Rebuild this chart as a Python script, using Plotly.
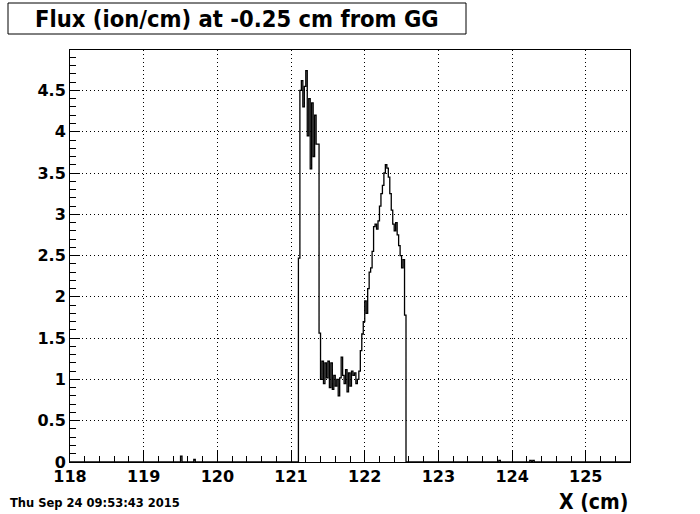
import numpy as np
import plotly.graph_objects as go

# ---------------- data ----------------
title_text = "Flux (ion/cm) at -0.25 cm from GG"
x_label = "X (cm)"
date_text = "Thu Sep 24 09:53:43 2015"

x_min, x_max = 118.0, 125.6
bin_width = 0.02
main_start = 121.10
# bin contents starting at main_start (each bin = bin_width wide)
main_values = [
    2.47, 4.50, 4.62, 4.30, 4.55, 4.74, 3.95, 4.40, 3.55, 4.35, 3.70, 4.20, 3.85, 3.85, 1.56,
    1.00, 1.22, 0.95, 1.20, 1.02, 1.22, 0.90, 1.20, 0.88, 1.05, 0.92, 1.00, 0.80, 1.02, 1.27,
    1.05, 0.95, 1.12, 0.85, 1.08, 0.92, 1.10, 1.05, 1.08, 0.95, 1.00, 1.10,
    1.35, 1.55, 1.70, 1.95, 1.80, 2.10, 2.30, 2.35, 2.55, 2.85, 2.88, 2.82, 2.92, 3.10, 3.25,
    3.35, 3.50, 3.60, 3.56, 3.45, 3.25, 3.05, 2.88, 2.80, 2.90, 2.75, 2.62, 2.50, 2.35, 2.45,
    1.78,
]
# isolated small bins near zero
blip_x = [119.50, 119.68, 123.82, 124.24, 124.28]
blip_values = [0.07, 0.03, 0.02, 0.02, 0.02]

y_max = 4.99
x_ticks = [118, 119, 120, 121, 122, 123, 124, 125]
y_ticks = [0, 0.5, 1, 1.5, 2, 2.5, 3, 3.5, 4, 4.5]

# ---------------- histogram build ----------------
n_bins = int(round((x_max - x_min) / bin_width))
edges = x_min + bin_width * np.arange(n_bins + 1)
counts = np.zeros(n_bins)
i0 = int(round((main_start - x_min) / bin_width))
counts[i0:i0 + len(main_values)] = main_values
for bx, bv in zip(blip_x, blip_values):
    counts[int(round((bx - x_min) / bin_width))] = bv

xs = np.concatenate([edges[:-1], [edges[-1]]])
ys = np.concatenate([counts, [counts[-1]]])

fig = go.Figure()
fig.add_trace(go.Scatter(
    x=xs, y=ys, mode="lines", line=dict(color="black", width=1.3, shape="hv"),
    hoverinfo="skip", showlegend=False,
))

tick_font = dict(family="DejaVu Sans", size=16, color="black", weight="bold")

fig.update_layout(
    width=700, height=514,
    margin=dict(l=70, r=70, t=50, b=52),
    paper_bgcolor="white", plot_bgcolor="white",
    showlegend=False,
    xaxis=dict(
        range=[x_min, x_max], tickvals=x_ticks, ticktext=[str(v) for v in x_ticks],
        ticks="inside", ticklen=12, tickcolor="black", tickwidth=1,
        showgrid=True, gridcolor="black", griddash="1px,3px", gridwidth=1,
        minor=dict(dtick=0.2, tick0=118, ticks="inside", ticklen=6, tickcolor="black", showgrid=False),
        showline=True, linecolor="black", linewidth=1, mirror=True,
        zeroline=False, tickfont=tick_font,
    ),
    yaxis=dict(
        range=[0, y_max], tickvals=y_ticks, ticktext=[f"{v:g}" for v in y_ticks],
        ticks="inside", ticklen=10, tickcolor="black", tickwidth=1,
        showgrid=True, gridcolor="black", griddash="1px,3px", gridwidth=1,
        minor=dict(dtick=0.1, tick0=0, ticks="inside", ticklen=6, tickcolor="black", showgrid=False),
        showline=True, linecolor="black", linewidth=1, mirror=True,
        zeroline=False, tickfont=tick_font,
    ),
)

# pixel -> paper helpers (plot area: x 70..630, y 50..462)
def px(xp):
    return (xp - 70) / 560.0

def py(yp):
    return (462 - yp) / 412.0

fig.add_shape(type="rect", xref="paper", yref="paper",
              x0=px(8), x1=px(466), y0=py(34), y1=py(3),
              line=dict(color="black", width=1), fillcolor="white", layer="above")

fig.add_annotation(text=title_text, xref="paper", yref="paper",
                   x=px(237), y=py(19), xanchor="center", yanchor="middle", showarrow=False,
                   font=dict(family="DejaVu Sans Condensed, Liberation Sans Narrow, DejaVu Sans",
                             size=23.5, color="black", weight="bold"))

fig.add_annotation(text=x_label, xref="paper", yref="paper",
                   x=px(630), y=py(502), xanchor="right", yanchor="middle", showarrow=False,
                   font=dict(family="DejaVu Sans Condensed, Liberation Sans Narrow, DejaVu Sans",
                             size=21, color="black", weight="bold"))

fig.add_annotation(text=date_text, xref="paper", yref="paper",
                   x=px(8), y=py(503), xanchor="left", yanchor="middle", showarrow=False,
                   font=dict(family="DejaVu Sans", size=11.5, color="black", weight="bold"))

# remove the page's default body margin so the figure fills the 700x514 window
fig.write_html("out.html", config={"displayModeBar": False},
               post_script="document.body.style.margin='0px';")
